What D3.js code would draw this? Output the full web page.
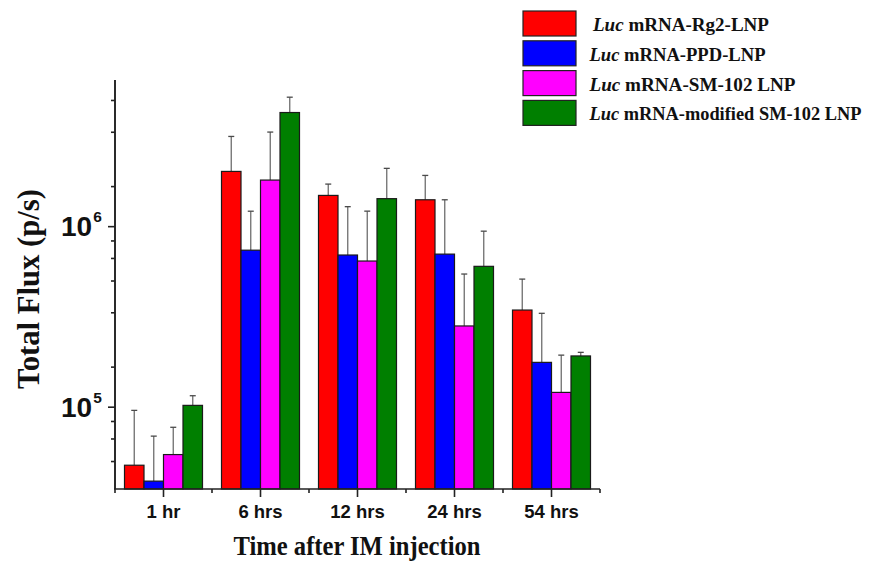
<!DOCTYPE html>
<html>
<head>
<meta charset="utf-8">
<script src="https://cdn.jsdelivr.net/npm/d3@7"></script>
<style>
  body { margin: 0; background: #fff; }
  svg { display: block; }
</style>
</head>
<body>
<svg id="chart"></svg>
<script>
const times = ["1 hr", "6 hrs", "12 hrs", "24 hrs", "54 hrs"];
const seriesNames = ["Rg2-LNP", "PPD-LNP", "SM-102 LNP", "modified SM-102 LNP"];
const seriesColors = ["#ff0000", "#0000ff", "#ff00ff", "#007f00"];

// mean flux per time point, one array per formulation
const rg2Mean = [4.74e4, 2.01e6, 1.48e6, 1.40e6, 3.43e5];
const ppdMean = [3.87e4, 7.36e5, 6.92e5, 7.00e5, 1.76e5];
const sm102Mean = [5.43e4, 1.80e6, 6.41e5, 2.80e5, 1.20e5];
const modMean = [1.017e5, 4.26e6, 1.42e6, 5.99e5, 1.91e5];

// upper error (SD) per time point
const rg2Err = [4.8e4, 1.13e6, 2.3e5, 5.1e5, 1.66e5];
const ppdErr = [3.0e4, 4.74e5, 5.9e5, 7.0e5, 1.53e5];
const sm102Err = [2.26e4, 1.52e6, 5.7e5, 2.63e5, 7.3e4];
const modErr = [1.33e4, 9.2e5, 6.7e5, 3.39e5, 9e3];

const means = [rg2Mean, ppdMean, sm102Mean, modMean];
const errs = [rg2Err, ppdErr, sm102Err, modErr];

const majorTicks = [1e5, 1e6];

const width = 876, height = 564;
const plot = { left: 115, right: 600, top: 80, bottom: 489 };
const serif = "'Liberation Serif', 'Times New Roman', serif";

const svg = d3.select("#chart")
    .attr("width", width)
    .attr("height", height)
    .style("font-family", "'Liberation Sans', Arial, sans-serif");

const xScale = d3.scaleBand()
    .domain(times)
    .range([plot.left, plot.right])
    .padding(0);

const subScale = d3.scaleBand()
    .domain(seriesNames)
    .range([9.5, xScale.bandwidth() - 9.5])
    .padding(0);

const yScale = d3.scaleLog()
    .domain([3.5e4, 6.45e6])
    .range([plot.bottom, plot.top]);

// flatten into records
const records = [];
times.forEach((t, i) => {
    seriesNames.forEach((s, j) => {
        records.push({ time: t, series: s, idx: j, mean: means[j][i], err: errs[j][i] });
    });
});

const cx = d => xScale(d.time) + subScale(d.series) + subScale.bandwidth() / 2;

// error bars (upper only)
const eb = svg.append("g").attr("class", "errorbars");
eb.selectAll("line.v")
    .data(records)
    .enter()
    .append("line")
    .attr("class", "v")
    .attr("x1", cx)
    .attr("x2", cx)
    .attr("y1", d => yScale(d.mean))
    .attr("y2", d => yScale(d.mean + d.err))
    .attr("stroke", "#6e6e6e")
    .attr("stroke-width", 1.3);
eb.selectAll("line.cap")
    .data(records)
    .enter()
    .append("line")
    .attr("class", "cap")
    .attr("x1", d => cx(d) - 3)
    .attr("x2", d => cx(d) + 3)
    .attr("y1", d => yScale(d.mean + d.err))
    .attr("y2", d => yScale(d.mean + d.err))
    .attr("stroke", "#4a4a4a")
    .attr("stroke-width", 1.3);

// bars
svg.append("g")
    .selectAll("rect")
    .data(records)
    .enter()
    .append("rect")
    .attr("x", d => xScale(d.time) + subScale(d.series))
    .attr("y", d => yScale(d.mean))
    .attr("width", subScale.bandwidth())
    .attr("height", d => plot.bottom - yScale(d.mean))
    .attr("fill", d => seriesColors[d.idx])
    .attr("stroke", "#1a1a1a")
    .attr("stroke-width", 1.2);

// y axis with log ticks (minor ticks at k/6 of each decade, like the original)
const yMinor = [];
[1e5, 1e6, 1e7].forEach(dec => {
    for (let k = 1; k <= 5; k++) {
        const v = dec * k / 6;
        if (v >= 3.5e4 && v <= 6.45e6) yMinor.push(v);
    }
});

const gy = svg.append("g").attr("transform", `translate(${plot.left},0)`);
gy.append("g").call(d3.axisLeft(yScale).tickValues(yMinor).tickSize(4).tickFormat(""));
gy.append("g").call(d3.axisLeft(yScale).tickValues(majorTicks).tickSize(7).tickFormat(""));
gy.selectAll("path.domain").attr("d", `M0,${plot.top}V${plot.bottom}`);
gy.selectAll("path, line").attr("stroke", "#222").attr("stroke-width", 1.6);

// y tick labels as 10^n
const yLabels = svg.append("g");
majorTicks.forEach(v => {
    const t = yLabels.append("text")
        .attr("x", 61)
        .attr("y", yScale(v) + 10)
        .attr("font-size", 28)
        .attr("font-weight", "bold")
        .attr("fill", "#111");
    t.append("tspan").text("10");
    t.append("tspan")
        .attr("font-size", 15.5)
        .attr("dy", -14)
        .attr("dx", 1)
        .text(Math.round(Math.log10(v)));
});

// x axis: long ticks at centers, short ticks at group boundaries
const gx = svg.append("g").attr("transform", `translate(0,${plot.bottom})`);
gx.append("line")
    .attr("x1", plot.left - 1).attr("x2", plot.right)
    .attr("y1", 0).attr("y2", 0)
    .attr("stroke", "#222").attr("stroke-width", 1.6);
gx.selectAll("line.major")
    .data(times)
    .enter()
    .append("line")
    .attr("class", "major")
    .attr("x1", d => xScale(d) + xScale.bandwidth() / 2)
    .attr("x2", d => xScale(d) + xScale.bandwidth() / 2)
    .attr("y1", 0).attr("y2", 8)
    .attr("stroke", "#222").attr("stroke-width", 1.6);
gx.selectAll("line.minor")
    .data(times.concat(["end"]))
    .enter()
    .append("line")
    .attr("class", "minor")
    .attr("x1", d => d === "end" ? plot.right : xScale(d))
    .attr("x2", d => d === "end" ? plot.right : xScale(d))
    .attr("y1", 0).attr("y2", 4)
    .attr("stroke", "#222").attr("stroke-width", 1.6);
gx.selectAll("text")
    .data(times)
    .enter()
    .append("text")
    .attr("x", d => xScale(d) + xScale.bandwidth() / 2)
    .attr("y", 29)
    .attr("text-anchor", "middle")
    .attr("font-size", 18.5)
    .attr("font-weight", "bold")
    .attr("fill", "#111")
    .text(d => d);

// axis titles
svg.append("text")
    .attr("x", 357)
    .attr("y", 555)
    .attr("text-anchor", "middle")
    .attr("textLength", 247)
    .attr("lengthAdjust", "spacingAndGlyphs")
    .style("font-family", serif)
    .attr("font-size", 27)
    .attr("font-weight", "bold")
    .attr("fill", "#111")
    .text("Time after IM injection");

svg.append("text")
    .attr("transform", `translate(39,289) rotate(-90)`)
    .attr("text-anchor", "middle")
    .attr("textLength", 200)
    .attr("lengthAdjust", "spacingAndGlyphs")
    .style("font-family", serif)
    .attr("font-size", 31)
    .attr("font-weight", "bold")
    .attr("fill", "#111")
    .text("Total Flux (p/s)");

// legend
const legendWidths = [176, 176, 206, 272];
const legend = svg.selectAll(".legend")
    .data(seriesNames)
    .enter()
    .append("g")
    .attr("class", "legend")
    .attr("transform", (d, i) => `translate(523, ${11 + i * 29.8})`);

legend.append("rect")
    .attr("width", 53)
    .attr("height", 25)
    .attr("fill", (d, i) => seriesColors[i])
    .attr("stroke", "#222")
    .attr("stroke-width", 1.2);

const lt = legend.append("text")
    .attr("x", (d, i) => i === 0 ? 70 : 66.5)
    .attr("y", 20)
    .attr("textLength", (d, i) => legendWidths[i])
    .attr("lengthAdjust", "spacingAndGlyphs")
    .style("font-family", serif)
    .attr("font-size", 19)
    .attr("font-weight", "bold")
    .attr("fill", "#111");
lt.append("tspan").attr("font-style", "italic").text("Luc");
lt.append("tspan").text(d => " mRNA-" + d);
</script>
</body>
</html>
